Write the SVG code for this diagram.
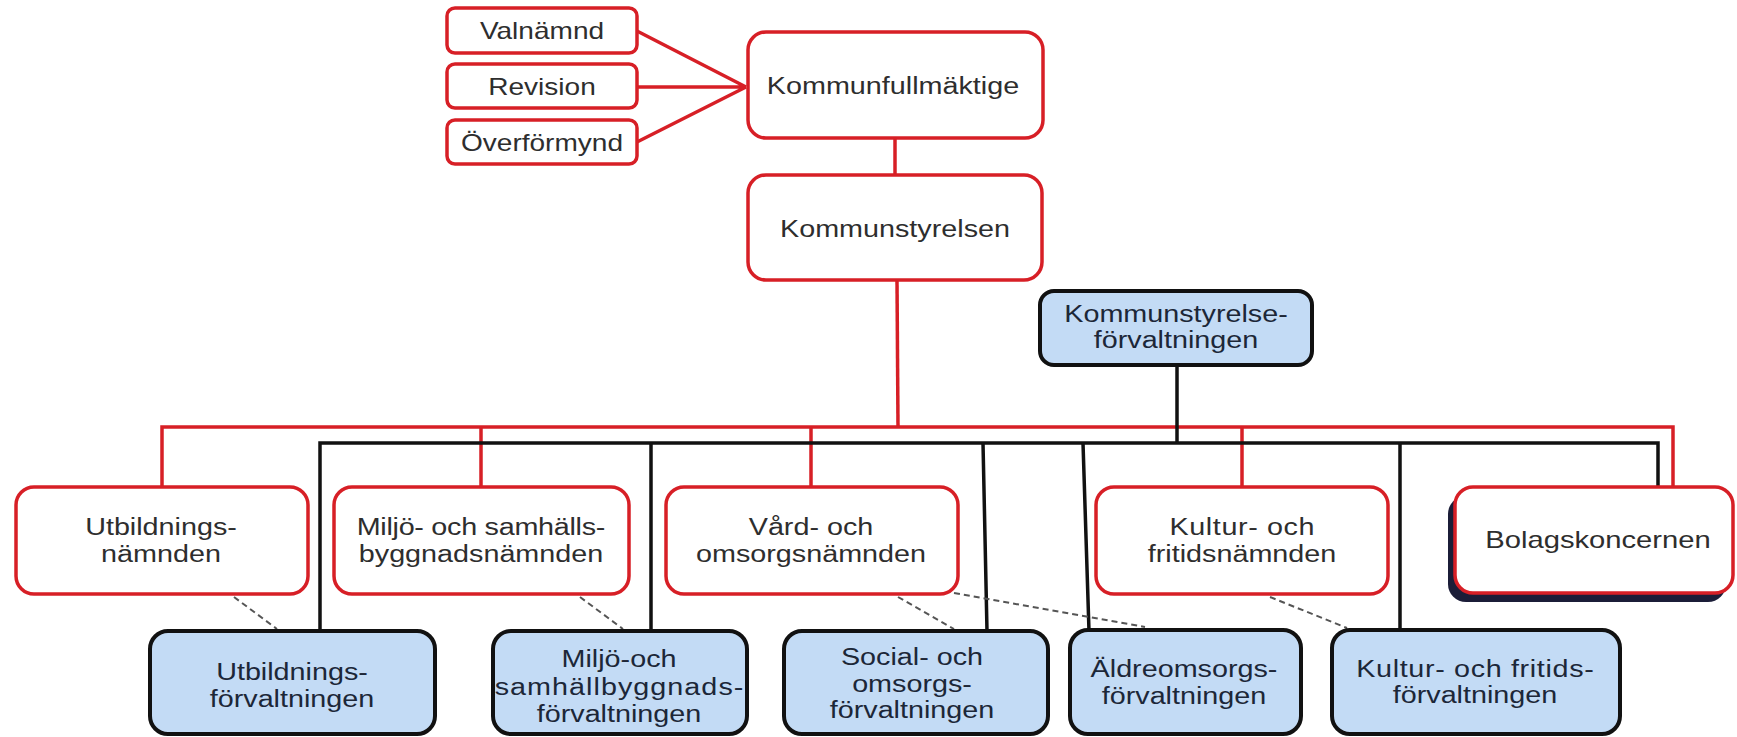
<svg xmlns="http://www.w3.org/2000/svg" width="1737" height="737" viewBox="0 0 1737 737">
<style>
.bg{fill:#ffffff}
.rbox{fill:#ffffff;stroke:#d71f26;stroke-width:3.5}
.bbox{fill:#c3dbf5;stroke:#111111;stroke-width:4}
.shadow{fill:#1b1d38}
.t{font-family:"Liberation Sans",Arial,sans-serif;font-size:23px;fill:#2e2e2e;text-anchor:middle}
.tb{font-family:"Liberation Sans",Arial,sans-serif;font-size:23px;fill:#1c2738;text-anchor:middle}
.rl{fill:none;stroke:#d71f26;stroke-width:3.5}
.bl{fill:none;stroke:#111111;stroke-width:3.5}
.dl{fill:none;stroke:#555555;stroke-width:2;stroke-dasharray:6 4}
</style>
<rect class="bg" x="0" y="0" width="1737" height="737"/>

<g id="connectors">
  <path class="rl" d="M637 31 L746 87 M637 87 L746 87 M637 142 L746 87"/>
  <path class="rl" d="M895 138 L895 175"/>
  <path class="rl" d="M897 280 L898 427"/>
  <path class="rl" d="M162 487 L162 427 L1673 427 L1673 487"/>
  <path class="rl" d="M481 427 L481 487 M811 427 L811 487 M1242 427 L1242 487"/>
  <path class="bl" d="M1177 365 L1177 443"/>
  <path class="bl" d="M320 631 L320 443 L1658 443 L1658 487"/>
  <path class="bl" d="M651 443 L651 631 M983 443 L987 631 M1083 443 L1089 631 M1400 443 L1400 631"/>
  <path class="dl" d="M234 597 L277 629 M580 597 L623 629 M898 597 L954 629 M954 593 L1145 627 M1270 597 L1347 628"/>
</g>

<g id="valnamnd">
  <rect class="rbox" x="447" y="8" width="190" height="45" rx="8"/>
  <text class="t" transform="translate(542 0) scale(1.22 1)"><tspan x="0" y="39">Valnämnd</tspan></text>
</g>
<g id="revision">
  <rect class="rbox" x="447" y="64" width="190" height="44" rx="8"/>
  <text class="t" transform="translate(542 0) scale(1.22 1)"><tspan x="0" y="95">Revision</tspan></text>
</g>
<g id="overformynd">
  <rect class="rbox" x="447" y="120" width="190" height="44" rx="8"/>
  <text class="t" transform="translate(542 0) scale(1.22 1)"><tspan x="0" y="151">Överförmynd</tspan></text>
</g>
<g id="kommunfullmaktige">
  <rect class="rbox" x="748" y="32" width="295" height="106" rx="18"/>
  <text class="t" transform="translate(893 0) scale(1.25 1)"><tspan x="0" y="94">Kommunfullmäktige</tspan></text>
</g>
<g id="kommunstyrelsen">
  <rect class="rbox" x="748" y="175" width="294" height="105" rx="18"/>
  <text class="t" transform="translate(895 0) scale(1.25 1)"><tspan x="0" y="237">Kommunstyrelsen</tspan></text>
</g>
<g id="ksforvaltningen">
  <rect class="bbox" x="1040" y="291" width="272" height="74" rx="14"/>
  <text class="tb" transform="translate(1176 0) scale(1.25 1)"><tspan x="0" y="322">Kommunstyrelse-</tspan><tspan x="0" y="348">förvaltningen</tspan></text>
</g>

<g id="utbildningsnamnden">
  <rect class="rbox" x="16" y="487" width="292" height="107" rx="18"/>
  <text class="t" transform="translate(161 0) scale(1.25 1)"><tspan x="0" y="535">Utbildnings-</tspan><tspan x="0" y="562">nämnden</tspan></text>
</g>
<g id="miljonamnden">
  <rect class="rbox" x="334" y="487" width="295" height="107" rx="18"/>
  <text class="t" transform="translate(481 0) scale(1.25 1)"><tspan x="0" y="535" textLength="199">Miljö- och samhälls-</tspan><tspan x="0" y="562">byggnadsnämnden</tspan></text>
</g>
<g id="vardnamnden">
  <rect class="rbox" x="666" y="487" width="292" height="107" rx="18"/>
  <text class="t" transform="translate(811 0) scale(1.25 1)"><tspan x="0" y="535">Vård- och</tspan><tspan x="0" y="562">omsorgsnämnden</tspan></text>
</g>
<g id="kulturnamnden">
  <rect class="rbox" x="1096" y="487" width="292" height="107" rx="18"/>
  <text class="t" transform="translate(1242 0) scale(1.25 1)"><tspan x="0" y="535" textLength="116">Kultur- och</tspan><tspan x="0" y="562">fritidsnämnden</tspan></text>
</g>
<g id="bolagskoncernen">
  <rect class="shadow" x="1448" y="496" width="278" height="106" rx="18"/>
  <rect class="rbox" x="1455" y="487" width="278" height="106" rx="18"/>
  <text class="t" transform="translate(1598 0) scale(1.27 1)"><tspan x="0" y="548">Bolagskoncernen</tspan></text>
</g>

<g id="utbildningsforvaltningen">
  <rect class="bbox" x="150" y="631" width="285" height="103" rx="18"/>
  <text class="tb" transform="translate(292 0) scale(1.25 1)"><tspan x="0" y="680">Utbildnings-</tspan><tspan x="0" y="707">förvaltningen</tspan></text>
</g>
<g id="miljoforvaltningen">
  <rect class="bbox" x="493" y="631" width="254" height="103" rx="18"/>
  <text class="tb" transform="translate(619 0) scale(1.25 1)"><tspan x="0" y="667">Miljö-och</tspan><tspan x="0" y="695" textLength="199">samhällbyggnads-</tspan><tspan x="0" y="722">förvaltningen</tspan></text>
</g>
<g id="socialforvaltningen">
  <rect class="bbox" x="784" y="631" width="264" height="103" rx="18"/>
  <text class="tb" transform="translate(912 0) scale(1.25 1)"><tspan x="0" y="665">Social- och</tspan><tspan x="0" y="692">omsorgs-</tspan><tspan x="0" y="718">förvaltningen</tspan></text>
</g>
<g id="aldreforvaltningen">
  <rect class="bbox" x="1070" y="630" width="231" height="104" rx="18"/>
  <text class="tb" transform="translate(1184 0) scale(1.25 1)"><tspan x="0" y="677">Äldreomsorgs-</tspan><tspan x="0" y="704">förvaltningen</tspan></text>
</g>
<g id="kulturforvaltningen">
  <rect class="bbox" x="1332" y="630" width="288" height="104" rx="18"/>
  <text class="tb" transform="translate(1475 0) scale(1.25 1)"><tspan x="0" y="677" textLength="190">Kultur- och fritids-</tspan><tspan x="0" y="703">förvaltningen</tspan></text>
</g>
</svg>
